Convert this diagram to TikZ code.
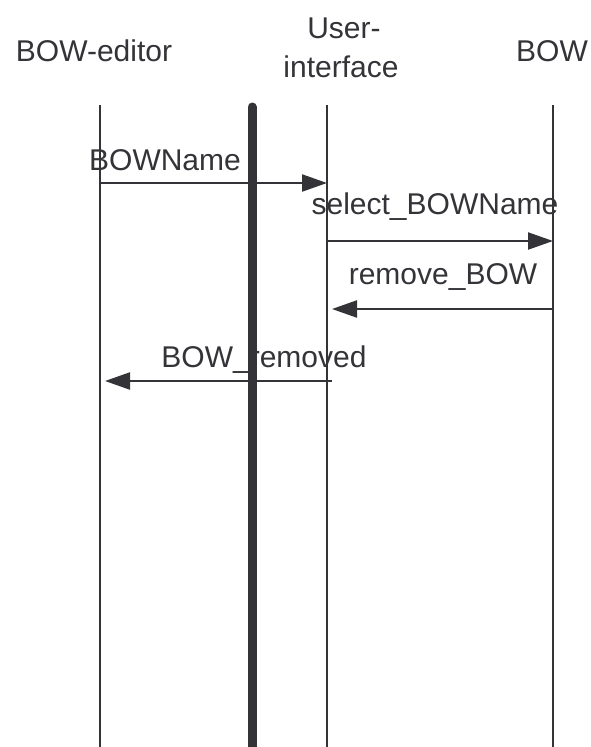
\documentclass[tikz,border=0pt]{standalone}
\usepackage{fontspec}
\setmainfont{Liberation Sans}
\usetikzlibrary{arrows.meta}
\definecolor{ink}{HTML}{333338}
\begin{document}
\begin{tikzpicture}[x=1pt,y=-1pt,
  lbl/.style={font=\fontsize{30}{34}\selectfont, text=ink, inner sep=0pt, align=center},
  life/.style={draw=ink, line width=2pt},
  msg/.style={draw=ink, line width=2.2pt, -{Triangle[length=25pt,width=17pt]}}]
\useasboundingbox (0,0) rectangle (591,747);
% lifelines
\coordinate (eT) at (100,105); \coordinate (eB) at (100,747);
\coordinate (uT) at (327,105); \coordinate (uB) at (327,747);
\coordinate (bT) at (553,105); \coordinate (bB) at (553,747);
\coordinate (tT) at (252,107); \coordinate (tB) at (252,747);
\draw[life] (eT) -- (eB);
\draw[life] (uT) -- (uB);
\draw[life] (bT) -- (bB);
\draw[draw=ink, line width=9pt, line cap=round] (tT) -- (tB);
\draw[draw=ink, line width=9pt] (252,700) -- (tB);
% headers
\node[lbl, anchor=base] (hE) at (94,61) {BOW-editor};
\node[lbl, anchor=base] (hU) at (344,38) {User-};
\node[lbl, anchor=base] (hU2) at (341,77) {interface};
\node[lbl, anchor=base] (hB) at (552,61) {BOW};
% messages
\coordinate (m1s) at (100,183); \coordinate (m1e) at (327,183);
\coordinate (m2s) at (327,241); \coordinate (m2e) at (553,241);
\coordinate (m3s) at (553,309); \coordinate (m3e) at (332,309);
\coordinate (m4s) at (332,381); \coordinate (m4e) at (105,381);
\draw[msg] (m1s) -- (m1e);
\draw[msg] (m2s) -- (m2e);
\draw[msg] (m3s) -- (m3e);
\draw[msg] (m4s) -- (m4e);
\node[lbl] (t1) at (165,160) {BOWName};
\node[lbl] (t2) at (435,207) {select\_BOWName};
\node[lbl] (t3) at (443,277) {remove\_BOW};
\node[lbl] (t4) at (264,360) {BOW\_removed};
\end{tikzpicture}
\end{document}
